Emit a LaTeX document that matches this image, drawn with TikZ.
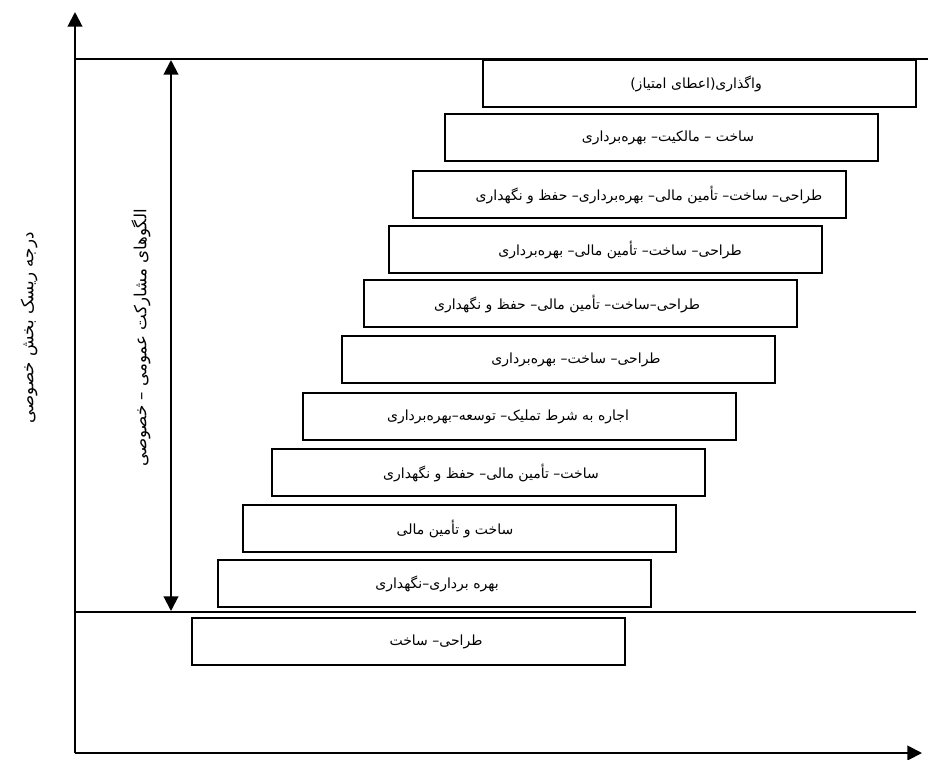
\documentclass[tikz,border=0pt]{standalone}
\usepackage{fontspec}
\usetikzlibrary{arrows.meta}
\TeXXeTstate=1
\newfontfamily\arabicfont[Script=Arabic]{DejaVu Sans}
\tikzset{
  box/.style={draw, line width=1.4pt, minimum width=324.75pt, minimum height=35.5pt, anchor=north west, inner sep=0pt},
  txt/.style={font=\arabicfont\fontsize{10.5}{12}\selectfont, inner sep=0pt},
  lbl/.style={font=\arabicfont\fontsize{12.5}{14}\selectfont, inner sep=0pt, rotate=90},
  axis/.style={line width=1.5pt, -{Triangle[length=11pt,width=11pt]}},
  dbl/.style={line width=1.5pt, {Triangle[length=11pt,width=11pt]}-{Triangle[length=11pt,width=11pt]}},
  sep/.style={line width=1.1pt}
}
\begin{document}
\begin{tikzpicture}[x=0.75pt,y=-0.75pt]
\useasboundingbox (0,0) rectangle (930,759);
% axes
\coordinate (o) at (75,753);
\coordinate (ytip) at (75,12);
\coordinate (xtip) at (922,753);
\draw[axis] (o) -- (ytip);
\draw[axis] (o) -- (xtip);
% separator lines
\coordinate (tl) at (75,59);
\coordinate (tr) at (928,59);
\coordinate (bl) at (75,612);
\coordinate (br) at (916,612);
\draw[sep] (tl) -- (tr);
\draw[sep] (bl) -- (br);
% double arrow
\coordinate (atop) at (171,60);
\coordinate (abot) at (171,611);
\draw[dbl] (atop) -- (abot);
% boxes
\node[box] (b1) at (482,59) {};
\node[box] (b2) at (444,113) {};
\node[box] (b3) at (412,170) {};
\node[box] (b4) at (388,225) {};
\node[box] (b5) at (363,279) {};
\node[box] (b6) at (341,335) {};
\node[box] (b7) at (302,392) {};
\node[box] (b8) at (271,448) {};
\node[box] (b9) at (242,504) {};
\node[box] (b10) at (217,559) {};
\node[box] (b11) at (191,617) {};
% texts
\node[txt] (t1) at (696,84) {\beginR واگذاری(اعطای امتیاز)\endR};
\node[txt] (t2) at (668,138) {\beginR ساخت – مالکیت– بهره‌برداری\endR};
\node[txt] (t3) at (649,195) {\beginR طراحی– ساخت– تأمین مالی– بهره‌برداری– حفظ و نگهداری\endR};
\node[txt] (t4) at (620,250) {\beginR طراحی– ساخت– تأمین مالی– بهره‌برداری\endR};
\node[txt] (t5) at (567,304) {\beginR طراحی–ساخت– تأمین مالی– حفظ و نگهداری\endR};
\node[txt] (t6) at (576,360) {\beginR طراحی– ساخت– بهره‌برداری\endR};
\node[txt] (t7) at (508,417) {\beginR اجاره به شرط تملیک– توسعه–بهره‌برداری\endR};
\node[txt] (t8) at (491,473) {\beginR ساخت– تأمین مالی– حفظ و نگهداری\endR};
\node[txt] (t9) at (455,529) {\beginR ساخت و تأمین مالی\endR};
\node[txt] (t10) at (437,584) {\beginR بهره برداری–نگهداری\endR};
\node[txt] (t11) at (436,642) {\beginR طراحی– ساخت\endR};
% vertical labels
\node[lbl] (ylab) at (29,328) {\beginR درجه ریسک بخش خصوصی\endR};
\node[lbl] (plab) at (141,338) {\beginR الگوهای مشارکت عمومی – خصوصی\endR};
\end{tikzpicture}
\end{document}
